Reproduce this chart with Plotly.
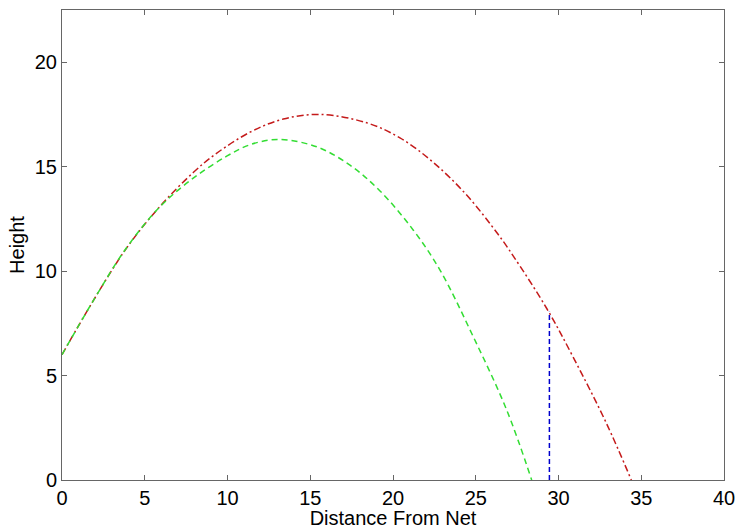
import plotly.graph_objects as go

# red dash-dot trajectory
red_x = [0, 1.9, 3.9, 5.92, 7.93, 9.2, 11.36, 13.37, 15.6, 18.41, 20.42,
         22.44, 24.45, 26.36, 27.27, 29.29, 30.9, 32.91, 34.4]
red_y = [6, 8.6, 11.1, 13.1, 14.72, 15.56, 16.65, 17.28, 17.5, 17.1, 16.38,
         15.2, 13.64, 11.75, 10.72, 8.21, 5.86, 2.69, 0]

# green dashed trajectory
green_x = [0, 1.9, 3.9, 5.92, 7.93, 9.95, 11.36, 13.07, 15.39, 17.4, 19.2,
           21.23, 22.84, 24.85, 26.87, 28.38]
green_y = [6, 8.6, 11.12, 13.08, 14.45, 15.5, 16.05, 16.3, 15.95, 15.07, 13.85,
           11.96, 10.05, 6.86, 3.35, 0]

# blue dashed marker line
blue_x = [29.45, 29.45]
blue_y = [0, 8.05]

x_ticks = [0, 5, 10, 15, 20, 25, 30, 35, 40]
y_ticks = [0, 5, 10, 15, 20]

fig = go.Figure()
fig.add_trace(go.Scatter(x=red_x, y=red_y, mode="lines",
                         line=dict(color="#c41a1a", width=1.5, dash="7px,3px,2px,3px", shape="spline")))
fig.add_trace(go.Scatter(x=green_x, y=green_y, mode="lines",
                         line=dict(color="#33dd33", width=1.5, dash="6px,4px", shape="spline")))
fig.add_trace(go.Scatter(x=blue_x, y=blue_y, mode="lines",
                         line=dict(color="#0000cc", width=1.5, dash="5px,3px")))

axis_style = dict(showgrid=False, zeroline=False, showline=True, linecolor="#666666",
                  linewidth=1, mirror="ticks", ticks="inside", ticklen=5, automargin=False,
                  tickcolor="#666666", tickfont=dict(size=20, color="black"))

fig.update_xaxes(range=[0, 40], tickvals=x_ticks,
                 title=dict(text="Distance From Net", font=dict(size=20, color="black"), standoff=2),
                 **axis_style)
fig.update_yaxes(range=[0, 22.5], tickvals=y_ticks,
                 title=dict(text="Height", font=dict(size=20, color="black"), standoff=4),
                 **axis_style)

fig.update_layout(width=736, height=529, showlegend=False,
                  plot_bgcolor="white", paper_bgcolor="white",
                  font=dict(family="Liberation Sans, Arial, sans-serif"),
                  margin=dict(l=62, r=12, t=10, b=49))

# page body has a default 8px margin; drop it so the figure sits at the corner
fig.write_html("out.html", config={"displayModeBar": False},
               post_script="document.body.style.margin='0';")
